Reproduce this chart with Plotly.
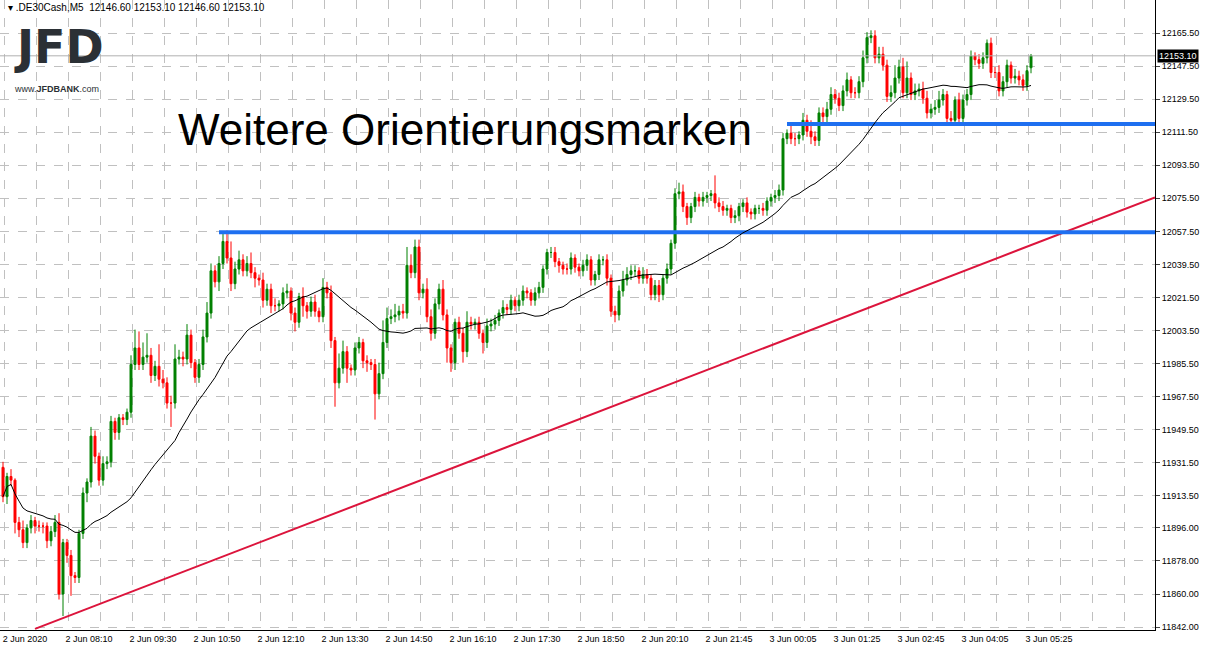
import plotly.graph_objects as go
import pandas as pd

closes = [
11913,11924,11922,11899,11895,11888,11896,11900,11897,11897,11897,11889,11894,11899,11860,11888,
11881,11870,11869,11893,11915,11921,11946,11935,11922,11931,11932,11954,11948,11956,11955,11959,
11985,11994,11985,11989,11990,11979,11984,11977,11975,11964,11964,11988,11989,11988,12001,11986,
11978,11985,12000,12013,12036,12030,12040,12052,12043,12029,12037,12042,12036,12040,12035,12032,
12031,12020,12026,12017,12017,12018,12024,12025,12013,12008,12022,12017,12014,12019,12014,12011,
12027,12024,11998,11975,11983,11992,11983,11982,11994,11997,11987,11986,11985,11969,11980,11997,
12010,12011,12012,12014,12013,12039,12035,12049,12024,12026,12011,12002,12018,12026,12012,11994,
11986,12008,12002,11992,12008,12007,12008,12002,11997,12006,12007,12009,12013,12016,12015,12020,
12017,12020,12025,12024,12020,12024,12027,12037,12046,12046,12041,12039,12037,12037,12043,12038,
12036,12039,12042,12031,12034,12042,12042,12032,12014,12012,12025,12031,12034,12036,12036,12032,
12034,12032,12023,12028,12023,12032,12037,12051,12078,12079,12071,12065,12071,12076,12074,12076,
12077,12078,12073,12071,12069,12070,12065,12066,12071,12073,12068,12067,12070,12070,12069,12074,
12076,12077,12080,12108,12111,12108,12108,12110,12118,12112,12109,12107,12122,12120,12124,12132,
12130,12126,12134,12140,12133,12133,12139,12152,12163,12164,12152,12154,12148,12131,12133,12141,
12147,12133,12141,12132,12134,12135,12130,12122,12124,12125,12129,12132,12119,12118,12129,12119,
12129,12132,12153,12151,12149,12152,12160,12144,12144,12134,12139,12148,12141,12142,12140,12137,
12145,12153.1]
first_open = 11929
last_open = 12146.6

up_wick = [
3,2,4,1,3,5,2,3,2,3,2,2,3,4,5,2,
2,3,2,2,3,2,5,3,2,4,3,3,2,2,2,2,
5,10,9,8,12,4,3,12,5,3,4,8,4,3,6,3,
2,3,4,6,4,3,4,5,6,9,4,5,3,4,6,3,
2,4,3,3,4,2,3,4,2,3,2,5,2,3,4,2,
5,3,4,2,8,6,3,2,3,3,2,3,2,3,6,12,
6,4,6,3,4,10,6,4,4,3,6,4,3,3,5,3,
2,2,3,3,6,3,2,3,2,4,3,3,2,4,2,3,
2,3,3,2,2,3,3,2,2,3,3,2,2,3,3,2,
2,3,3,2,2,3,2,3,2,3,3,5,4,3,3,2,
4,3,2,3,3,2,3,2,3,5,4,2,2,3,2,3,
2,2,10,3,3,2,2,3,2,2,3,2,2,2,3,2,
2,3,3,3,2,5,3,2,4,3,6,3,3,3,4,4,
3,3,3,4,2,3,3,4,3,3,3,4,4,3,4,7,
4,5,9,3,4,3,4,4,3,4,5,3,2,4,2,4,
3,3,3,2,3,3,2,3,3,4,3,3,2,4,3,3,
3,1]
dn_wick = [
3,4,3,6,4,3,3,3,4,3,4,4,3,3,3,12,
4,11,3,3,3,5,3,4,3,3,3,3,4,4,3,3,
3,3,3,3,3,4,3,4,3,3,13,3,3,4,3,3,
3,3,3,3,3,3,5,3,3,4,3,3,3,3,3,5,
3,4,3,4,3,3,3,3,4,5,3,6,4,3,3,3,
3,3,4,13,3,3,8,3,3,3,4,5,3,14,3,3,
3,3,3,3,3,3,3,3,4,3,3,4,3,3,3,8,
5,4,3,6,3,3,3,3,6,3,3,3,3,3,3,3,
3,3,3,3,3,3,3,3,3,3,3,4,3,3,3,3,
3,3,3,3,3,3,3,4,3,4,3,3,3,3,3,3,
3,3,3,3,4,3,3,3,3,3,3,4,3,3,3,3,
3,3,3,3,3,3,3,3,3,3,3,3,3,3,3,3,
3,3,3,3,3,3,4,3,3,3,4,3,3,3,4,3,
3,3,3,3,3,3,3,3,3,3,3,3,3,3,3,3,
3,3,3,3,3,3,3,3,3,3,3,3,3,3,3,3,
3,3,3,3,3,3,3,3,3,3,3,3,3,3,3,3,
3,3]

x_labels = ["2 Jun 2020","2 Jun 08:10","2 Jun 09:30","2 Jun 10:50","2 Jun 12:10","2 Jun 13:30",
            "2 Jun 14:50","2 Jun 16:10","2 Jun 17:30","2 Jun 18:50","2 Jun 20:10","2 Jun 21:45",
            "3 Jun 00:05","3 Jun 01:25","3 Jun 02:45","3 Jun 04:05","3 Jun 05:25"]
x_label_pos = [5.5 + 16 * i for i in range(len(x_labels))]
y_ticks = [11842.00,11860.00,11878.00,11896.00,11913.50,11931.50,11949.50,11967.50,11985.50,
           12003.50,12021.50,12039.50,12057.50,12075.50,12093.50,12111.50,12129.50,12147.50,12165.50]

levels = [12057, 12116]
level_start = [54, 196]
trend_x = [8, 288]
trend_y = [11841, 12076]

n = len(closes)
idx = list(range(n))
opens = [first_open] + closes[:-1]
opens[-1] = last_open
highs = [max(o, c) + u for o, c, u in zip(opens, closes, up_wick)]
lows = [min(o, c) - d for o, c, d in zip(opens, closes, dn_wick)]
ma = pd.Series(closes).rolling(30, min_periods=1).mean()

fig = go.Figure()
fig.add_trace(go.Scatter(x=trend_x, y=trend_y, mode="lines", line=dict(color="#dc143c", width=2), hoverinfo="skip"))
for lv, st in zip(levels, level_start):
    fig.add_trace(go.Scatter(x=[st, 300], y=[lv, lv], mode="lines", line=dict(color="#1e6ff0", width=4), hoverinfo="skip"))
fig.add_trace(go.Scatter(x=idx, y=ma, mode="lines", line=dict(color="black", width=1), hoverinfo="skip"))
fig.add_trace(go.Candlestick(x=idx, open=opens, high=highs, low=lows, close=closes,
    increasing=dict(line=dict(color="#008000", width=1), fillcolor="#008000"),
    decreasing=dict(line=dict(color="#ff0000", width=1), fillcolor="#ff0000"),
    whiskerwidth=0))

fig.add_hline(y=closes[-1], line=dict(color="#b0b0b0", width=1))

fig.update_layout(
    width=1207, height=651, showlegend=False, plot_bgcolor="white", paper_bgcolor="white",
    margin=dict(l=0, r=52, t=0, b=21), font=dict(family="Liberation Sans, Arial", size=10, color="black"),
    xaxis=dict(range=[-0.75, 288], rangeslider=dict(visible=False), tickvals=x_label_pos, ticktext=x_labels,
               showgrid=False, ticks="", showline=True, linecolor="black", mirror=False, zeroline=False,
               tickfont=dict(size=9),
               minor=dict(tick0=8.25, dtick=8, showgrid=True, gridcolor="#c0c0c0", griddash="dash", gridwidth=1)),
    yaxis=dict(range=[11840.4, 12183.5], side="right", tickvals=y_ticks, ticktext=[f"{v:.2f}" for v in y_ticks],
               showgrid=True, gridcolor="#c0c0c0", griddash="dash", ticks="outside", ticklen=4,
               showline=True, linecolor="black", zeroline=False, tickfont=dict(size=9)),
)
fig.add_annotation(x=1, xref="paper", y=closes[-1], yref="y", text=f"{closes[-1]:.2f}", showarrow=False,
                   xanchor="left", xshift=2, bgcolor="black", font=dict(color="white", size=9), borderpad=1)
fig.add_annotation(x=0.005, xref="paper", y=1, yref="paper", yanchor="top", xanchor="left", showarrow=False,
                   text="▾ .DE30Cash,M5  12146.60 12153.10 12146.60 12153.10", font=dict(size=10))
fig.add_annotation(x=0.011, xref="paper", y=0.97, yref="paper", yanchor="top", xanchor="left", showarrow=False,
                   text="<b>JFD</b>", font=dict(size=46, color="#2b3035", family="DejaVu Sans"), borderpad=0)
fig.add_annotation(x=0.011, xref="paper", y=0.868, yref="paper", yanchor="top", xanchor="left", showarrow=False,
                   text="www.<b>JFDBANK</b>.com", font=dict(size=9, color="#2b3035"), borderpad=0)
fig.add_annotation(x=176/1155, xref="paper", y=12113, yref="y", xanchor="left", showarrow=False,
                   text="Weitere Orientierungsmarken", font=dict(size=44, color="black", family="Liberation Sans"))
fig.write_html("out.html", config={"displayModeBar": False}, post_script="document.body.style.margin='0';")
